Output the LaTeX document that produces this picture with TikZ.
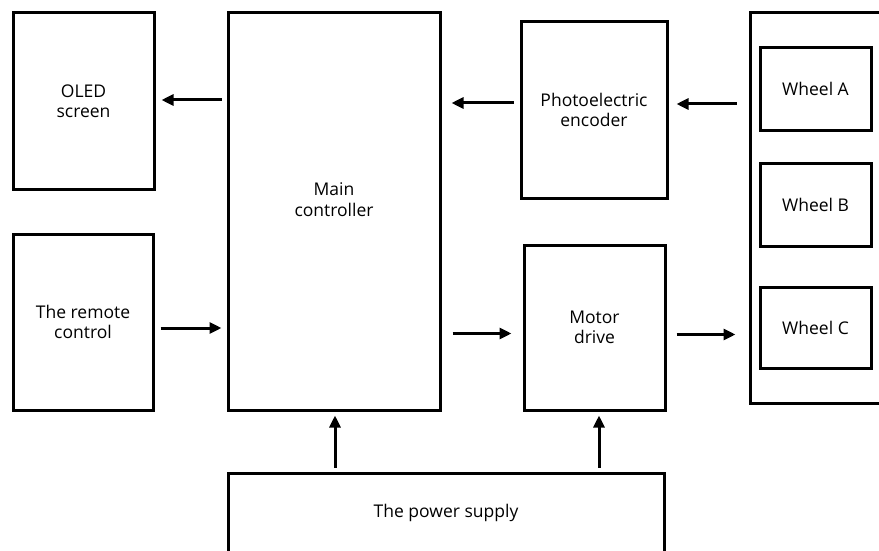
\documentclass[tikz,border=0pt]{standalone}
\usepackage{fontspec}
\setmainfont{Open Sans}
\usetikzlibrary{arrows.meta,calc}
\begin{document}
\begin{tikzpicture}[x=1pt,y=-1pt,
  box/.style={draw,line width=3pt,inner sep=0pt,align=center,font=\fontsize{17.5}{20.5}\selectfont},
  arr/.style={line width=3pt,-{Triangle[length=12pt,width=11pt]}}]
\useasboundingbox (0,0) rectangle (879,551);
\clip (0,0) rectangle (879,551);
% blocks
\node[box,minimum width=141pt,minimum height=176pt] (oled) at (83.5,101) {OLED\\screen};
\node[box,minimum width=140pt,minimum height=176pt] (remote) at (83,322) {The remote\\control};
\node[box,minimum width=212pt,minimum height=397pt,
  label={[align=center,font=\fontsize{17.5}{20.5}\selectfont,yshift=12pt]center:Main\\controller}] (main) at (334,211.5) {};
\node[box,minimum width=146pt,minimum height=176pt] (enc) at (594,110) {Photoelectric\\encoder};
\node[box,minimum width=141pt,minimum height=165pt] (motor) at (594.5,327.5) {Motor\\drive};
\node[box,minimum width=150pt,minimum height=390pt] (wheels) at (825,208) {};
\node[box,minimum width=111pt,minimum height=82pt] (wa) at (815.5,89) {Wheel A};
\node[box,minimum width=111pt,minimum height=83pt] (wb) at (815.5,204.5) {Wheel B};
\node[box,minimum width=111pt,minimum height=81pt] (wc) at (815.5,327.5) {Wheel C};
\node[box,minimum width=436pt,minimum height=84pt,
  label={[font=\fontsize{17.5}{20.5}\selectfont,yshift=2pt]center:The power supply}] (power) at (446,515) {};
% anchor points for connectors
\path ($(oled.east)+(0,-1)$) coordinate (o1)
      ($(remote.east)+(0,6)$) coordinate (r1)
      ($(enc.west)+(0,-7)$) coordinate (e1)
      ($(enc.east)+(0,-6)$) coordinate (e2)
      ($(motor.west)+(0,6)$) coordinate (m1)
      ($(motor.east)+(0,7)$) coordinate (m2);
% connectors
\draw[arr,shorten <=5pt,shorten >=6pt] (o1 -| main.west) -- (o1);
\draw[arr,shorten <=6pt,shorten >=5pt] (r1) -- (r1 -| main.west);
\draw[arr,shorten <=6pt,shorten >=10pt] (e1) -- (e1 -| main.east);
\draw[arr,shorten <=12pt,shorten >=8pt] (e2 -| wheels.west) -- (e2);
\draw[arr,shorten <=11pt,shorten >=11pt] (m1 -| main.east) -- (m1);
\draw[arr,shorten <=10pt,shorten >=13pt] (m2) -- (m2 -| wheels.west);
\draw[arr,shorten <=4pt,shorten >=4pt] (power.north -| 335,0) -- (main.south -| 335,0);
\draw[arr,shorten <=4pt,shorten >=4pt] (power.north -| 599,0) -- (motor.south -| 599,0);
\end{tikzpicture}
\end{document}
